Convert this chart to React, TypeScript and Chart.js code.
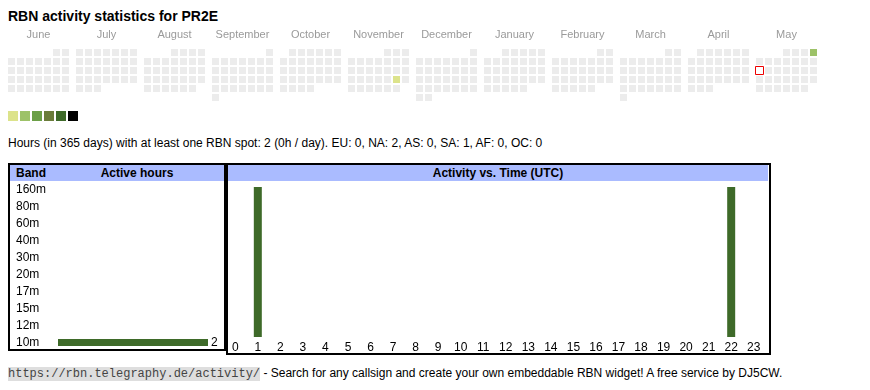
import React, { useEffect, useRef } from 'react';
import { Chart, registerables } from 'chart.js';
Chart.register(...registerables);

const FONT = "'Liberation Sans', Arial, Helvetica, sans-serif";
const MONO = "'Liberation Mono', 'Courier New', monospace";

// ---------- calendar data ----------
const monthNames = ['June', 'July', 'August', 'September', 'October', 'November', 'December', 'January', 'February', 'March', 'April', 'May'];
const startYear = 2024;
const startMonth = 5; // June (0-based)
const activeDates = ['2024-11-23', '2025-05-04'];
const activeLevels = [1, 2];
const todayDate = '2025-05-12';
const levelColors = ['#ececec', '#dce38b', '#9dc268', '#6b9f47', '#6a7c3a', '#3e6a29', '#000000'];
const legendLevels = [1, 2, 3, 4, 5, 6];

// ---------- band data ----------
const bands = ['160m', '80m', '60m', '40m', '30m', '20m', '17m', '15m', '12m', '10m'];
const bandHours = [0, 0, 0, 0, 0, 0, 0, 0, 0, 2];

// ---------- hour-of-day data ----------
const hourLabels = ['0', '1', '2', '3', '4', '5', '6', '7', '8', '9', '10', '11', '12', '13', '14', '15', '16', '17', '18', '19', '20', '21', '22', '23'];
const hourActivity = [0, 1, 0, 0, 0, 0, 0, 0, 0, 0, 0, 0, 0, 0, 0, 0, 0, 0, 0, 0, 0, 0, 1, 0];

const BAR_GREEN = '#3e6a29';
const BLOCK_UNITS = 68 / 9; // 7 weekday columns + gap, in column units

function pad(n: number) { return n < 10 ? '0' + n : '' + n; }

function buildCells() {
  const pts: { x: number; y: number; key: string }[] = [];
  for (let m = 0; m < 12; m++) {
    const y = startYear + Math.floor((startMonth + m) / 12);
    const mo = (startMonth + m) % 12;
    const first = (new Date(Date.UTC(y, mo, 1)).getUTCDay() + 6) % 7;
    const days = new Date(Date.UTC(y, mo + 1, 0)).getUTCDate();
    for (let d = 1; d <= days; d++) {
      const idx = first + d - 1;
      pts.push({ x: m * BLOCK_UNITS + (idx % 7), y: Math.floor(idx / 7), key: `${y}-${pad(mo + 1)}-${pad(d)}` });
    }
  }
  return pts;
}

function CalendarChart() {
  const ref = useRef<HTMLCanvasElement>(null);
  useEffect(() => {
    const cells = buildCells();
    const colors = cells.map((c) => {
      if (c.key === todayDate) return '#ffffff';
      const i = activeDates.indexOf(c.key);
      return i >= 0 ? levelColors[activeLevels[i]] : levelColors[0];
    });
    const borders = cells.map((c) => (c.key === todayDate ? 1 : 0));
    const radii = cells.map((c) => (c.key === todayDate ? 4 / Math.SQRT1_2 : 3.5 / Math.SQRT1_2));
    const monthLabels = {
      id: 'monthLabels',
      afterDraw(chart: any) {
        const { ctx, scales } = chart;
        ctx.save();
        ctx.font = `11px ${FONT}`;
        ctx.fillStyle = '#9a9a9a';
        ctx.textAlign = 'center';
        ctx.textBaseline = 'middle';
        monthNames.forEach((name, m) => {
          ctx.fillText(name, scales.x.getPixelForValue(m * BLOCK_UNITS + 3), scales.y.getPixelForValue(-2));
        });
        ctx.restore();
      },
    };
    const chart = new Chart(ref.current!, {
      type: 'scatter',
      data: {
        datasets: [{
          data: cells.map((c) => ({ x: c.x, y: c.y })),
          pointStyle: 'rect',
          pointRadius: radii,
          pointBackgroundColor: colors,
          pointBorderColor: '#ee0000',
          pointBorderWidth: borders,
        } as any],
      },
      options: {
        animation: false,
        responsive: false,
        events: [],
        layout: { padding: 0, autoPadding: false },
        plugins: { legend: { display: false }, tooltip: { enabled: false } },
        scales: {
          x: { type: 'linear', display: false, min: -11.5 / 9, max: (870 - 11.5) / 9 },
          y: { type: 'linear', display: false, reverse: true, min: -32.5 / 9, max: (90 - 32.5) / 9 },
        },
      } as any,
      plugins: [monthLabels],
    });
    return () => chart.destroy();
  }, []);
  return <canvas ref={ref} width={870} height={90} style={{ position: 'absolute', left: 0, top: 20 }} />;
}

function BandChart() {
  const ref = useRef<HTMLCanvasElement>(null);
  useEffect(() => {
    const valueLabels = {
      id: 'valueLabels',
      afterDatasetsDraw(chart: any) {
        const { ctx } = chart;
        const meta = chart.getDatasetMeta(0);
        ctx.save();
        ctx.font = `12px ${FONT}`;
        ctx.fillStyle = '#000';
        ctx.textAlign = 'left';
        ctx.textBaseline = 'middle';
        meta.data.forEach((bar: any, i: number) => {
          if (bandHours[i] > 0) ctx.fillText(String(bandHours[i]), bar.x + 3, bar.y);
        });
        ctx.restore();
      },
    };
    const chart = new Chart(ref.current!, {
      type: 'bar',
      data: {
        labels: bands,
        datasets: [{ data: bandHours, backgroundColor: BAR_GREEN, borderWidth: 0, barThickness: 7, inflateAmount: 0 }],
      },
      options: {
        indexAxis: 'y',
        animation: false,
        responsive: false,
        events: [],
        layout: { padding: { left: 6, right: 16, top: 0, bottom: 0 } },
        plugins: { legend: { display: false }, tooltip: { enabled: false } },
        scales: {
          y: {
            grid: { display: false, drawTicks: false },
            border: { display: false },
            ticks: { crossAlign: 'far', color: '#000', font: { size: 12, family: FONT }, padding: 0, autoSkip: false },
            afterFit: (s: any) => { s.width = 42; s.paddingTop = 0; s.paddingBottom = 0; },
          },
          x: { display: false, min: 0, max: 2 },
        },
      } as any,
      plugins: [valueLabels],
    });
    return () => chart.destroy();
  }, []);
  return <canvas ref={ref} width={214} height={170} style={{ position: 'absolute', left: 10, top: 181 }} />;
}

function HourChart() {
  const ref = useRef<HTMLCanvasElement>(null);
  useEffect(() => {
    const chart = new Chart(ref.current!, {
      type: 'bar',
      data: {
        labels: hourLabels,
        datasets: [{ data: hourActivity, backgroundColor: BAR_GREEN, borderWidth: 0, barThickness: 8, inflateAmount: 0 }],
      },
      options: {
        animation: false,
        responsive: false,
        events: [],
        layout: { padding: { left: 0, right: 0, top: 6, bottom: 0 } },
        plugins: { legend: { display: false }, tooltip: { enabled: false } },
        scales: {
          x: {
            grid: { display: false, drawTicks: false },
            border: { display: false },
            ticks: { color: '#000', font: { size: 12, family: FONT }, padding: 3, maxRotation: 0, autoSkip: false },
            afterFit: (s: any) => { s.height = 16; s.paddingLeft = 0; s.paddingRight = 0; },
          },
          y: { display: false, min: 0, max: 1 },
        },
      } as any,
    });
    return () => chart.destroy();
  }, []);
  return <canvas ref={ref} width={541} height={172} style={{ position: 'absolute', left: 224, top: 181 }} />;
}

const abs = (s: React.CSSProperties): React.CSSProperties => ({ position: 'absolute', ...s });

export default function App() {
  return (
    <div style={abs({ left: 0, top: 0, width: 870, height: 390, fontFamily: FONT, color: '#000', background: '#fff' })}>
      <div style={abs({ left: 8, top: 8, fontSize: 14, lineHeight: '16px', fontWeight: 'bold', whiteSpace: 'nowrap' })}>
        RBN activity statistics for PR2E
      </div>
      <CalendarChart />
      {legendLevels.map((lv, i) => (
        <div key={lv} style={abs({ left: 8 + i * 12, top: 111, width: 10, height: 10, background: levelColors[lv] })} />
      ))}
      <div style={abs({ left: 8, top: 136, fontSize: 12, lineHeight: '14px', whiteSpace: 'nowrap' })}>
        Hours (in 365 days) with at least one RBN spot: 2 (0h / day). EU: 0, NA: 2, AS: 0, SA: 1, AF: 0, OC: 0
      </div>

      {/* headers */}
      <div style={abs({ left: 10, top: 165, width: 214, height: 16, background: '#aabbff' })} />
      <div style={abs({ left: 228, top: 165, width: 540, height: 16, background: '#aabbff' })} />
      <div style={abs({ left: 16, top: 166, fontSize: 12, lineHeight: '14px', fontWeight: 'bold' })}>Band</div>
      <div style={abs({ left: 50, top: 166, width: 174, textAlign: 'center', fontSize: 12, lineHeight: '14px', fontWeight: 'bold' })}>Active hours</div>
      <div style={abs({ left: 228, top: 166, width: 540, textAlign: 'center', fontSize: 12, lineHeight: '14px', fontWeight: 'bold' })}>Activity vs. Time (UTC)</div>

      <BandChart />
      <HourChart />

      {/* borders */}
      <div style={abs({ left: 8, top: 163, width: 218, height: 188, border: '2px solid #000', boxSizing: 'border-box' })} />
      <div style={abs({ left: 226, top: 163, width: 545, height: 192, border: '2px solid #000', boxSizing: 'border-box' })} />

      <div style={abs({ left: 8, top: 366, fontSize: 12, lineHeight: '15px', whiteSpace: 'nowrap' })}>
        <span style={{ fontFamily: MONO, background: '#dedede', color: '#444' }}>https://rbn.telegraphy.de/activity/</span>
        {' - Search for any callsign and create your own embeddable RBN widget! A free service by DJ5CW.'}
      </div>
    </div>
  );
}
